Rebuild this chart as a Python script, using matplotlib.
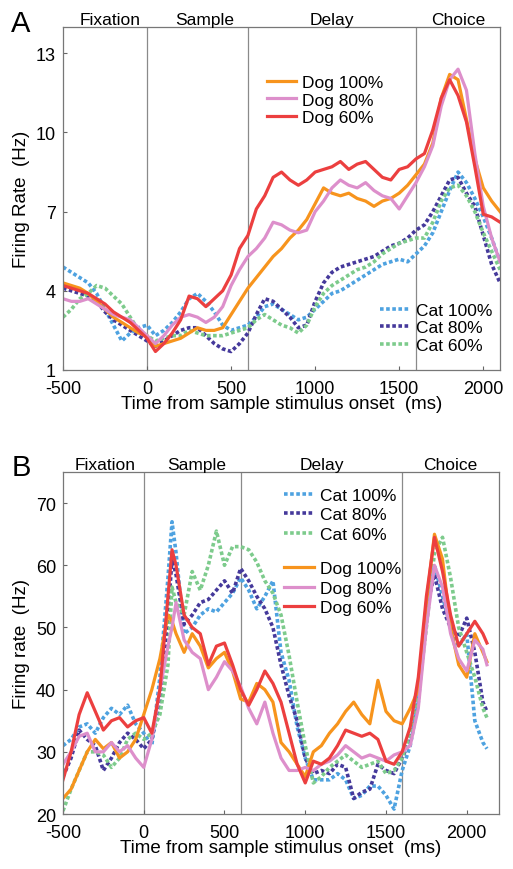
import numpy as np
import matplotlib
matplotlib.use('Agg')
import matplotlib.pyplot as plt

plt.rcParams['font.family'] = ['Liberation Sans', 'DejaVu Sans']
plt.rcParams['axes.unicode_minus'] = False

# Panel A : temps (ms) et taux de décharge (Hz)
t_a = np.arange(-500, 2101, 50)

dog100_a = [4.3, 4.2, 4.1, 3.9, 3.6, 3.3, 3.0, 2.8, 2.6, 2.4,
            2.3, 1.9, 2.0, 2.1, 2.2, 2.4, 2.6, 2.5, 2.5, 2.6,
            3.1, 3.6, 4.1, 4.5, 4.9, 5.3, 5.6, 6.0, 6.3, 6.7,
            7.3, 7.9, 7.7, 7.6, 7.7, 7.5, 7.4, 7.2, 7.4, 7.5,
            7.7, 8.0, 8.4, 8.8, 9.6, 11.3, 12.2, 12.0, 10.5, 9.0,
            7.9, 7.4, 7.0]
dog80_a = [3.7, 3.6, 3.6, 3.7, 3.5, 3.3, 3.1, 3.0, 2.9, 2.6,
           2.3, 2.0, 2.3, 2.7, 3.0, 3.1, 3.0, 2.8, 3.0, 3.4,
           4.2, 4.8, 5.3, 5.6, 6.0, 6.6, 6.5, 6.3, 6.2, 6.3,
           7.0, 7.4, 7.9, 8.2, 8.0, 7.9, 8.1, 7.8, 7.6, 7.5,
           7.1, 7.6, 8.1, 8.7, 9.5, 11.0, 12.0, 12.4, 11.6, 9.2,
           7.2, 6.0, 5.1]
dog60_a = [4.2, 4.1, 4.0, 3.9, 3.7, 3.5, 3.2, 3.0, 2.8, 2.5,
           2.2, 1.7, 2.0, 2.4, 2.9, 3.8, 3.7, 3.4, 3.7, 4.0,
           4.6, 5.6, 6.1, 7.1, 7.6, 8.3, 8.5, 8.2, 8.0, 8.2,
           8.5, 8.6, 8.7, 8.9, 8.6, 8.8, 8.9, 8.6, 8.3, 8.2,
           8.6, 8.7, 9.0, 9.2, 10.1, 11.3, 12.0, 11.4, 10.4, 8.7,
           6.9, 6.8, 6.6]
cat100_a = [4.9, 4.7, 4.5, 4.3, 3.9, 3.3, 2.7, 2.1, 2.4, 2.6,
            2.7, 2.3, 2.5, 2.8, 3.2, 3.7, 3.9, 3.6, 3.2, 2.7,
            2.5, 2.6, 2.7, 3.0, 3.4, 3.5, 3.3, 3.1, 2.9, 3.0,
            3.3, 3.6, 3.9, 4.0, 4.2, 4.4, 4.6, 4.8, 5.0, 5.1,
            5.2, 5.1, 5.4, 5.7, 6.2, 7.0, 7.8, 8.5, 8.1, 7.5,
            6.8, 6.0, 5.1]
cat80_a = [4.1, 4.0, 3.9, 3.8, 3.6, 3.2, 2.9, 2.7, 2.5, 2.3,
           2.1, 1.9, 2.1, 2.3, 2.5, 2.6, 2.6, 2.3, 2.0, 1.8,
           1.7, 2.0, 2.4, 3.1, 3.7, 3.6, 3.3, 3.0, 2.6, 2.7,
           3.6, 4.3, 4.7, 4.9, 5.0, 5.1, 5.2, 5.3, 5.5, 5.7,
           5.8, 6.0, 6.3, 6.5, 7.0, 7.6, 8.2, 8.3, 7.7, 7.2,
           6.1, 5.0, 4.3]
cat60_a = [3.0, 3.3, 3.7, 3.9, 4.2, 4.1, 3.8, 3.5, 3.0, 2.5,
           2.3, 2.1, 2.2, 2.3, 2.3, 2.5, 2.4, 2.3, 2.3, 2.3,
           2.4, 2.5, 2.6, 2.9, 3.1, 2.9, 2.7, 2.6, 2.4, 2.7,
           3.4, 3.9, 4.2, 4.4, 4.6, 4.8, 4.9, 5.1, 5.4, 5.6,
           5.8, 5.9, 6.0, 6.0, 6.6, 7.4, 7.9, 8.0, 7.6, 7.0,
           6.2, 5.5, 4.8]

# Panel B
t_b = np.r_[np.arange(-500, 151, 50), 175, np.arange(200, 2101, 50), 2125]

dog100_b = [22.5, 24, 27, 30, 32, 30.5, 31.5, 29, 30, 32, 36, 40, 45, 52,
            51,
            49, 46, 49, 47, 43.5, 45, 46, 43, 38.5, 38, 41, 40, 38, 31.5, 30,
            28, 26, 30, 31, 33, 34.5, 36.5, 38, 36, 34.5, 41.5, 36.5, 35, 34.5, 37,
            40, 54, 65, 61, 50, 44, 42, 49, 46,
            44.5]
dog80_b = [28, 30, 32.5, 33, 30, 30, 31.5, 30, 31, 29, 27.5, 32, 40, 47,
           50,
           54, 48, 46, 45, 40, 42, 44.5, 43, 40.5, 37, 34.5, 38, 33, 29, 27,
           27, 27.5, 27, 28, 28.5, 29.5, 31, 30, 29, 29.5, 29, 28.5, 29.5, 30, 31,
           37, 50, 60, 56.5, 49, 45, 43, 48, 46.5,
           44]
dog60_b = [25.5, 30, 36, 39.5, 36.5, 33.5, 35, 35.5, 34, 35, 35.5, 33, 40, 55,
           62.5,
           60, 52, 50, 49, 44, 47, 47.5, 44, 40, 37.5, 40, 43, 41, 38, 33,
           28, 25, 28.5, 28, 29, 31, 33.5, 33, 32.5, 33, 32, 28.5, 28, 30, 34,
           42, 55, 64.5, 59, 52, 47, 49, 51, 49,
           47.5]
cat100_b = [31, 32, 34, 34.5, 33, 35.5, 37, 36, 37.5, 34.5, 33, 31, 42, 58,
            67,
            62, 49, 50, 52, 53, 52.5, 54, 55.5, 58, 56, 53, 55, 57.5, 46, 41.5,
            34, 29, 25.5, 25.5, 25.5, 26.5, 25.5, 22.5, 23, 24.5, 24.5, 23, 20.8, 27, 31,
            38, 52, 60, 55, 50, 47, 49, 35, 31.5,
            30.5]
cat80_b = [26, 29, 33.5, 32, 31, 27, 29, 31.5, 33, 32, 30.5, 32, 38, 52,
           61,
           58.5, 50.5, 52, 54, 54.5, 56, 57.5, 55.5, 59.5, 57.5, 55, 53, 50, 44, 39,
           35, 29, 26.5, 27, 26.5, 28, 27.5, 22.5, 23.5, 24, 28, 27, 26.5, 29, 32,
           40, 53, 58.5, 53, 50, 48.5, 51.5, 46, 38,
           36.5]
cat60_b = [20.5, 24, 27, 30, 30, 29.5, 27.5, 29, 32, 33, 32, 33, 36, 44,
           56.5,
           54, 52, 59, 56, 60, 65.5, 60, 63, 63, 62.5, 60.5, 57.5, 55.5, 52, 45.5,
           38, 31, 25, 26, 27.5, 28.5, 29.5, 28.5, 27.5, 28, 28.5, 26.5, 27, 29, 33,
           39, 50, 62, 64.5, 58, 50, 46, 42, 37,
           35.5]

epochs = ['Fixation', 'Sample', 'Delay', 'Choice']
bornes = [0, 600, 1600]
centres_a = [-220, 340, 1100, 1850]
centres_b = [-240, 330, 1100, 1900]

couleurs = {'Dog 100%': '#F7941D', 'Dog 80%': '#DD8FCB', 'Dog 60%': '#EC3F3F',
            'Cat 100%': '#4EA2E0', 'Cat 80%': '#45399B', 'Cat 60%': '#7DCB8C'}
dots = (0, (1, 0.7))

fig = plt.figure(figsize=(5.13, 8.70), dpi=100)
ax_a = fig.add_axes([0.1228, 0.5736, 0.852, 0.3943])
ax_b = fig.add_axes([0.1228, 0.0632, 0.850, 0.3931])


def habillage(ax, xlim, ylim, yticks, centres, ylabel):
    for b in bornes:
        ax.axvline(b, color='#8a8a8a', linewidth=0.9, zorder=0)
    ax.set_xlim(*xlim)
    ax.set_ylim(*ylim)
    ax.set_xticks([-500, 0, 500, 1000, 1500, 2000])
    ax.set_yticks(yticks)
    ax.tick_params(direction='in', length=3, color='#666666', labelsize=13)
    ax.tick_params(axis='x', pad=7)
    ax.tick_params(axis='y', pad=5)
    for s in ax.spines.values():
        s.set_color('#777777')
        s.set_linewidth(0.9)
    for nom, c in zip(epochs, centres):
        ax.text(c, ylim[1], nom, ha='center', va='bottom', fontsize=12.5)
    ax.set_xlabel('Time from sample stimulus onset  (ms)', fontsize=13.5, labelpad=-1)
    ax.set_ylabel(ylabel, fontsize=13.5, labelpad=4)


legende = dict(frameon=False, fontsize=12.5, handlelength=1.7, handletextpad=0.35)

# Panel A
lignes_a = {}
for nom, vals in [('Cat 100%', cat100_a), ('Cat 80%', cat80_a), ('Cat 60%', cat60_a)]:
    lignes_a[nom], = ax_a.plot(t_a, vals, color=couleurs[nom], linewidth=2.6, linestyle=dots, label=nom)
for nom, vals in [('Dog 100%', dog100_a), ('Dog 80%', dog80_a), ('Dog 60%', dog60_a)]:
    lignes_a[nom], = ax_a.plot(t_a, vals, color=couleurs[nom], linewidth=2.3, label=nom)

habillage(ax_a, (-500, 2100), (1, 14), [1, 4, 7, 10, 13], centres_a, 'Firing Rate  (Hz)')

leg_dog = ax_a.legend([lignes_a[n] for n in ['Dog 100%', 'Dog 80%', 'Dog 60%']],
                      ['Dog 100%', 'Dog 80%', 'Dog 60%'], loc='upper left',
                      bbox_to_anchor=(0.43, 0.905), labelspacing=0.12, **legende)
ax_a.add_artist(leg_dog)
ax_a.legend([lignes_a[n] for n in ['Cat 100%', 'Cat 80%', 'Cat 60%']],
            ['Cat 100%', 'Cat 80%', 'Cat 60%'], loc='lower left',
            bbox_to_anchor=(0.69, 0.005), labelspacing=0.12, **legende)

# Panel B
lignes_b = {}
for nom, vals in [('Cat 100%', cat100_b), ('Cat 80%', cat80_b), ('Cat 60%', cat60_b)]:
    lignes_b[nom], = ax_b.plot(t_b, vals, color=couleurs[nom], linewidth=2.6, linestyle=dots, label=nom)
for nom, vals in [('Dog 100%', dog100_b), ('Dog 80%', dog80_b), ('Dog 60%', dog60_b)]:
    lignes_b[nom], = ax_b.plot(t_b, vals, color=couleurs[nom], linewidth=2.3, label=nom)

habillage(ax_b, (-500, 2200), (20, 75), [20, 30, 40, 50, 60, 70], centres_b, 'Firing rate  (Hz)')

leg_cat = ax_b.legend([lignes_b[n] for n in ['Cat 100%', 'Cat 80%', 'Cat 60%']],
                      ['Cat 100%', 'Cat 80%', 'Cat 60%'], loc='upper left',
                      bbox_to_anchor=(0.472, 1.0), labelspacing=0.25, **legende)
ax_b.add_artist(leg_cat)
ax_b.legend([lignes_b[n] for n in ['Dog 100%', 'Dog 80%', 'Dog 60%']],
            ['Dog 100%', 'Dog 80%', 'Dog 60%'], loc='upper left',
            bbox_to_anchor=(0.472, 0.785), labelspacing=0.25, **legende)

fig.text(0.022, 0.963, 'A', fontsize=21)
fig.text(0.022, 0.453, 'B', fontsize=21)

fig.savefig('out.png', dpi=100)
